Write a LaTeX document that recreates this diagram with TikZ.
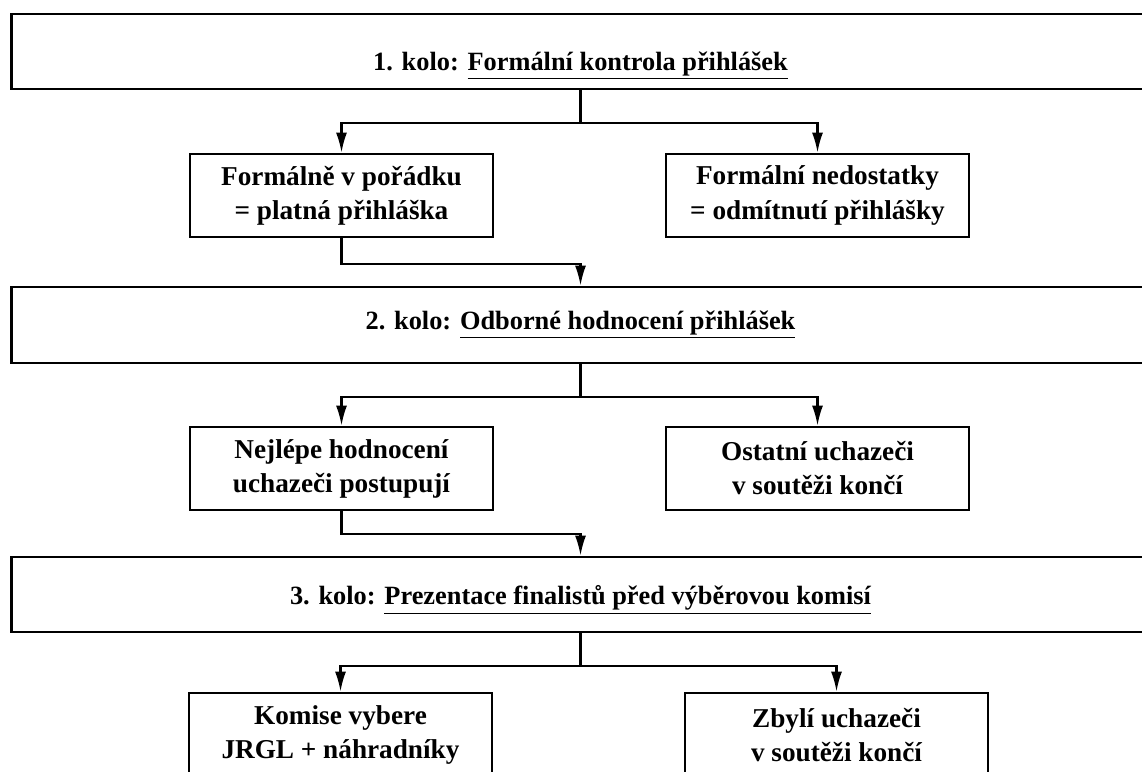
\documentclass[tikz,border=0pt]{standalone}
\usepackage{fontspec}
\setmainfont{Liberation Serif}
\usetikzlibrary{calc}
\usetikzlibrary{arrows.meta}

\begin{document}
\begin{tikzpicture}[x=0.02cm, y=-0.02cm]

    \tikzset{kolo/.style={draw, line width=1.6pt, minimum width=22.78cm, inner sep=0pt,
                 font=\bfseries\fontsize{15}{19.4}\selectfont},
             vysledek/.style={draw, line width=1.6pt, minimum width=6.06cm, minimum height=1.66cm,
                 align=center, font=\bfseries\fontsize{15.5}{19.4}\selectfont},
             spoj/.style={line width=1.2pt},
             sipka/.style={line width=1.2pt, -{Latex[length=4mm, width=2.2mm]}}}

    \clip (0, 0) rectangle (1142, 771);

    \node [kolo, minimum height=1.5cm, text height=0.87cm, text depth=0.1cm] (K1) at (580.5, 51.5)
        {1. kolo: \underline{Formální kontrola přihlášek}};
        \node [vysledek] (P1) at ($(K1) + (-239, 144)$) {Formálně v pořádku\\= platná přihláška};
        \node [vysledek] (N1) at ($(P1) + (476, 0)$) {Formální nedostatky\\= odmítnutí přihlášky};
    \node [kolo, minimum height=1.52cm] (K2) at ($(K1) + (0, 273.5)$)
        {2. kolo: \underline{Odborné hodnocení přihlášek}};
        \node [vysledek] (P2) at ($(K2) + (-239, 143.5)$) {Nejlépe hodnocení\\uchazeči postupují};
        \node [vysledek] (N2) at ($(P2) + (476, 0)$) {Ostatní uchazeči\\v soutěži končí};
    \node [kolo, minimum height=1.5cm, text height=0.6cm] (K3) at ($(K2) + (0, 269.5)$)
        {3. kolo: \underline{Prezentace finalistů před výběrovou komisí}};
        \node [vysledek, minimum height=1.68cm] (P3) at ($(K3) + (-240, 140.5)$) {Komise vybere\\JRGL + náhradníky};
        \node [vysledek, minimum height=1.68cm] (N3) at ($(P3) + (496, 0)$) {Zbylí uchazeči\\v soutěži končí};

    \draw [spoj] (K1.south) -- ++(0, 33) coordinate (S1);
        \draw [sipka] (S1) -| (P1);
        \draw [sipka] (S1) -| (N1);
    \draw [sipka] (P1.south) -- ++(0, 26) -| (K2.north);

    \draw [spoj] (K2.south) -- ++(0, 33) coordinate (S2);
        \draw [sipka] (S2) -| (P2);
        \draw [sipka] (S2) -| (N2);
    \draw [sipka] (P2.south) -- ++(0, 23) -| (K3.north);

    \draw [spoj] (K3.south) -- ++(0, 33) coordinate (S3);
        \draw [sipka] (S3) -| (P3);
        \draw [sipka] (S3) -| (N3);

\end{tikzpicture}
\end{document}
